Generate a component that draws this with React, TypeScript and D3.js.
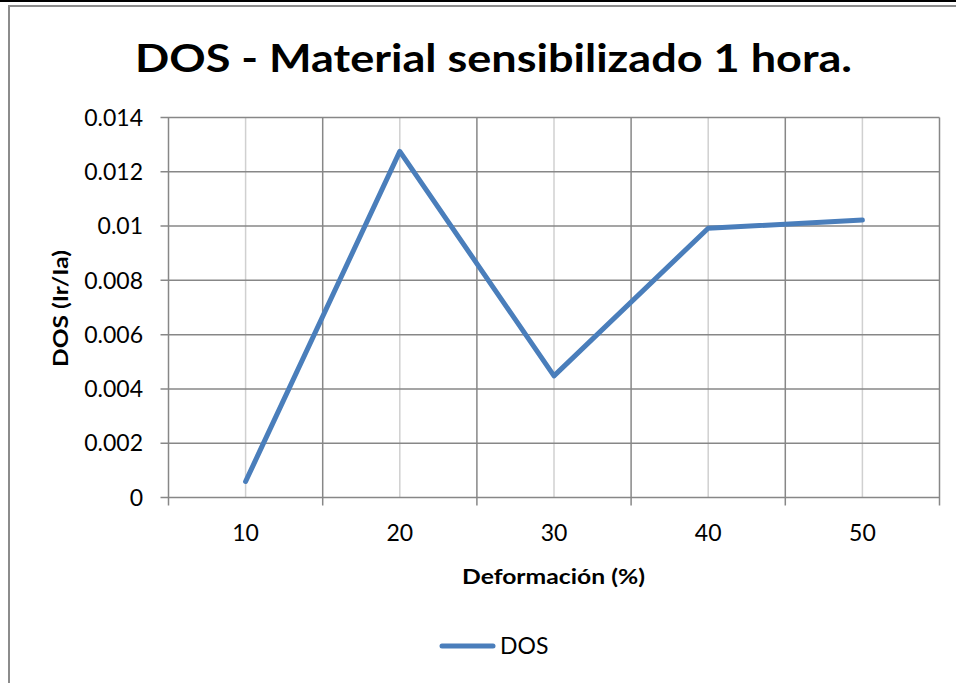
import React from "react";
import * as d3 from "d3";

const categories = ["10", "20", "30", "40", "50"];
const dosValues = [0.00059, 0.01275, 0.00448, 0.00992, 0.01022];
const yTicks = [0, 0.002, 0.004, 0.006, 0.008, 0.01, 0.012, 0.014];
const yTickLabels = ["0", "0.002", "0.004", "0.006", "0.008", "0.01", "0.012", "0.014"];
const seriesName = "DOS";

export default function App() {
  const W = 956, H = 683;
  const left = 168.5, right = 939.5, top = 117.5, bottom = 497.5;
  const x = d3.scaleBand<string>().domain(categories).range([left, right]).padding(0);
  const y = d3.scaleLinear().domain([0, 0.014]).range([bottom, top]);
  const font = "Lato, 'Open Sans', sans-serif";
  const line = d3.line<number>()
    .x((_, i) => (x(categories[i]) as number) + x.bandwidth() / 2)
    .y((d) => y(d));
  const boundaries = categories.map((c) => x(c) as number).concat([right]);
  return (
    <svg width={W} height={H} style={{ position: "absolute", left: 0, top: 0, background: "#fff" }}>
      <rect x={0} y={0} width={W} height={H} fill="#fff" />
      <line x1={0} x2={W} y1={1} y2={1} stroke="#000" strokeWidth={2} />
      <rect x={9} y={6} width={W} height={H} fill="none" stroke="#8c8c8c" strokeWidth={2} />
      <text x={493.5} y={72} textAnchor="middle" fontFamily={font} fontWeight="bold" fontSize={39} fill="#000"
        textLength={717} lengthAdjust="spacingAndGlyphs">
        DOS - Material sensibilizado 1 hora.
      </text>
      {categories.map((c) => (
        <line key={"c" + c} x1={(x(c) as number) + x.bandwidth() / 2} x2={(x(c) as number) + x.bandwidth() / 2}
          y1={top} y2={bottom} stroke="#d0d0d0" strokeWidth={1.5} />
      ))}
      {yTicks.map((t) => (
        <line key={"h" + t} x1={left - 8} x2={right} y1={y(t)} y2={y(t)} stroke="#878787" strokeWidth={1.5} />
      ))}
      {boundaries.map((b, i) => (
        <line key={"b" + i} x1={b} x2={b} y1={top} y2={bottom + 8} stroke="#878787" strokeWidth={1.5} />
      ))}
      {yTicks.map((t, i) => (
        <text key={"yl" + t} x={143} y={y(t)} dy="0.36em" textAnchor="end" fontFamily={font} fontSize={23} fill="#000">
          {yTickLabels[i]}
        </text>
      ))}
      {categories.map((c) => (
        <text key={"xl" + c} x={(x(c) as number) + x.bandwidth() / 2} y={541} textAnchor="middle" fontFamily={font} fontSize={23} fill="#000">
          {c}
        </text>
      ))}
      <text x={553.5} y={584} textAnchor="middle" fontFamily={font} fontWeight="bold" fontSize={20} fill="#000"
        textLength={183} lengthAdjust="spacingAndGlyphs">
        Deformación (%)
      </text>
      <text transform={`translate(68, 308.5) rotate(-90)`} textAnchor="middle" fontFamily={font} fontWeight="bold" fontSize={21.5} fill="#000"
        textLength={117} lengthAdjust="spacingAndGlyphs">
        DOS (Ir/Ia)
      </text>
      <path d={line(dosValues) || ""} fill="none" stroke="#4a7ebb" strokeWidth={5} strokeLinejoin="round" strokeLinecap="round" />
      <line x1={442} x2={493} y1={646} y2={646} stroke="#4a7ebb" strokeWidth={5} strokeLinecap="round" />
      <text x={500} y={646} dy="0.36em" fontFamily={font} fontSize={23} fill="#000">{seriesName}</text>
    </svg>
  );
}
